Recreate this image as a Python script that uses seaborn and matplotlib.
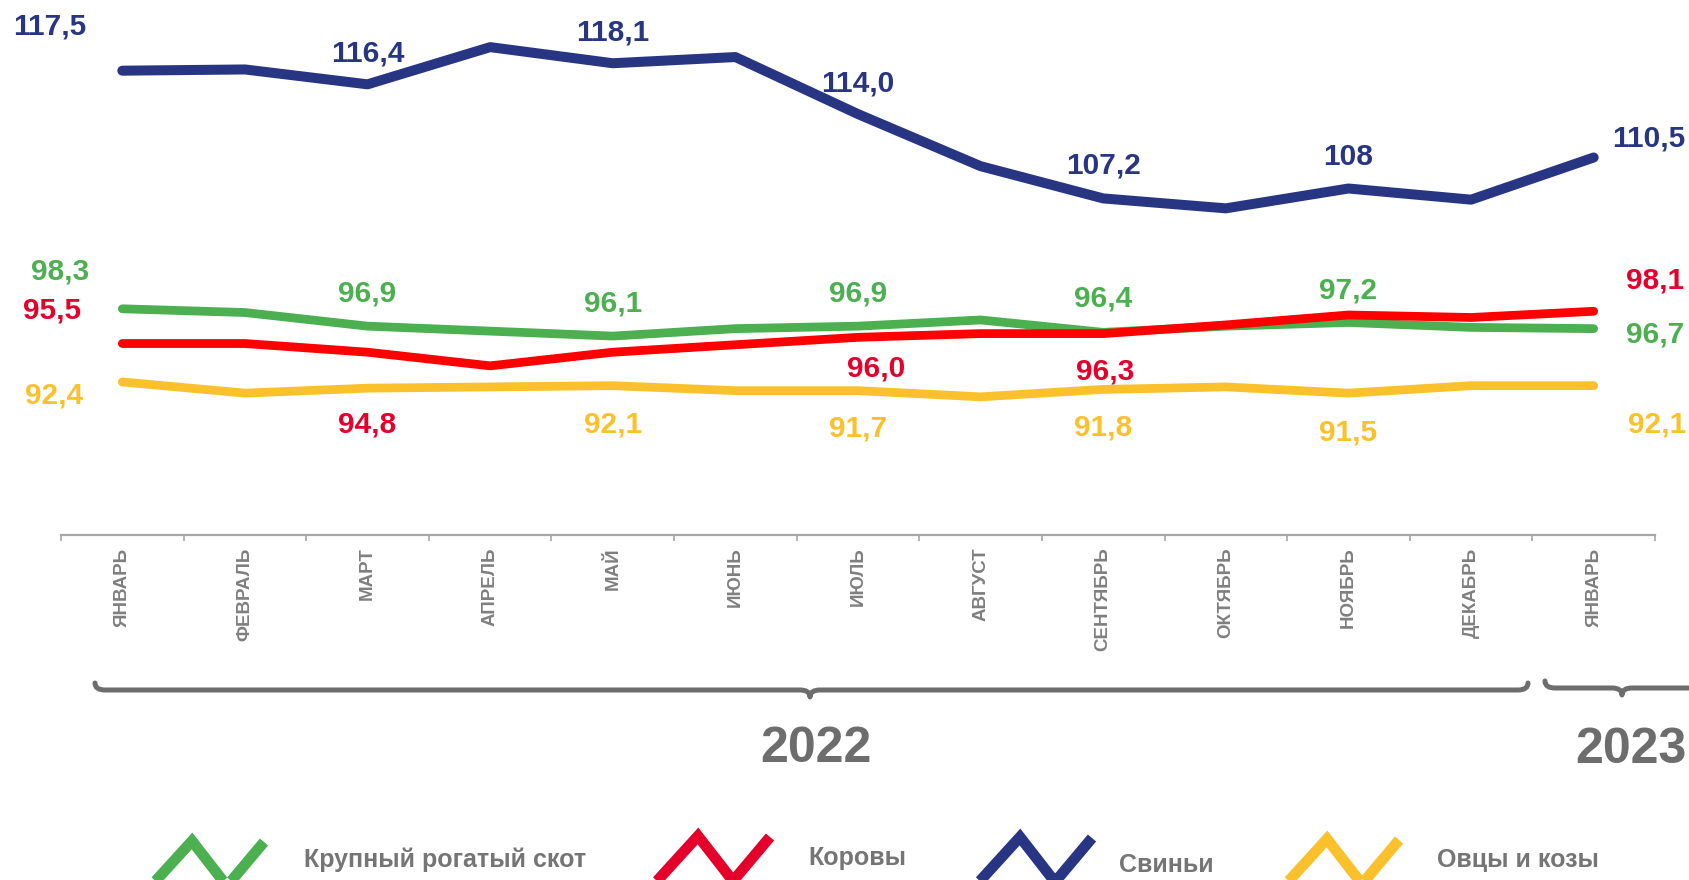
import numpy as np
import pandas as pd
import matplotlib
matplotlib.use('Agg')
import matplotlib.pyplot as plt
import seaborn as sns
from matplotlib.path import Path
from matplotlib.patches import PathPatch
from matplotlib.lines import Line2D
from matplotlib.transforms import Affine2D
from matplotlib import font_manager as fm

#%% data
months = ['ЯНВАРЬ', 'ФЕВРАЛЬ', 'МАРТ', 'АПРЕЛЬ', 'МАЙ', 'ИЮНЬ', 'ИЮЛЬ',
          'АВГУСТ', 'СЕНТЯБРЬ', 'ОКТЯБРЬ', 'НОЯБРЬ', 'ДЕКАБРЬ', 'ЯНВАРЬ']
series_names = ['Крупный рогатый скот', 'Коровы', 'Свиньи', 'Овцы и козы']

cattle = [98.3, 98.0, 96.9, 96.5, 96.1, 96.7, 96.9, 97.4, 96.4, 96.9, 97.2, 96.8, 96.7]
cows = [95.5, 95.5, 94.8, 93.7, 94.8, 95.4, 96.0, 96.3, 96.3, 97.0, 97.8, 97.6, 98.1]
pigs = [117.5, 117.6, 116.4, 119.4, 118.1, 118.6, 114.0, 109.8, 107.2, 106.4, 108.0, 107.1, 110.5]
sheep = [92.4, 91.5, 91.9, 92.0, 92.1, 91.7, 91.7, 91.2, 91.8, 92.0, 91.5, 92.1, 92.1]

# labelled points (month index) and label text
cattle_lbl_idx = [0, 2, 4, 6, 8, 10, 12]
cattle_lbl = ['98,3', '96,9', '96,1', '96,9', '96,4', '97,2', '96,7']
cows_lbl_idx = [0, 2, 6, 8, 12]
cows_lbl = ['95,5', '94,8', '96,0', '96,3', '98,1']
pigs_lbl_idx = [0, 2, 4, 6, 8, 10, 12]
pigs_lbl = ['117,5', '116,4', '118,1', '114,0', '107,2', '108', '110,5']
sheep_lbl_idx = [0, 4, 6, 8, 10, 12]
sheep_lbl = ['92,4', '92,1', '91,7', '91,8', '91,5', '92,1']

years = ['2022', '2023']

#%% styling / layout
W, H = 1690, 880
line_colors = ['#4caf50', '#ff0000', '#283583', '#fbc12d']
text_colors = ['#4caf50', '#e4002b', '#283583', '#fbc12d']
gray = '#6d6d6d'

# label offsets in pixels (dx, dy down) relative to the point
cattle_off = [(-62, -40), (0, -35), (0, -35), (0, -35), (0, -36), (0, -34), (61, 3)]
cows_off = [(-70, -36), (0, 70), (18, 29), (2, 35), (61, -33)]
pigs_off = [(-73, -47), (0, -33), (0, -33), (0, -33), (0, -35), (0, -34), (55, -21)]
sheep_off = [(-68, 11), (0, 36), (0, 35), (0, 36), (0, 37), (63, 36)]

sns.set_style('white')
plt.rcParams['font.family'] = ['Liberation Sans', 'DejaVu Sans']

names = {f.name for f in fm.fontManager.ttflist}
if 'Liberation Sans Narrow' in names:
    legend_font, legend_size = ['Liberation Sans Narrow', 'DejaVu Sans'], 21
else:
    legend_font, legend_size = ['Liberation Sans', 'DejaVu Sans'], 18

df = pd.DataFrame({
    'idx': np.tile(np.arange(len(months)), 4),
    'value': cattle + cows + pigs + sheep,
    'series': np.repeat(series_names, len(months)),
})

fig = plt.figure(figsize=(W / 100, H / 100), dpi=100)
ax = fig.add_axes([61 / W, 1 - 535 / H, 1594 / W, 535 / H])

sns.lineplot(data=df, x='idx', y='value', hue='series', hue_order=series_names,
             palette=line_colors, linewidth=6.3, legend=False, ax=ax)
for i, ln in enumerate(ax.lines):
    ln.set_solid_capstyle('round')
    ln.set_solid_joinstyle('round')
    if i == 2:
        ln.set_linewidth(7.2)

ax.set_xlim(-0.5, len(months) - 0.5)
ax.set_ylim(80.06, 123.2)
ax.set_xlabel('')
ax.set_ylabel('')
ax.set_yticks([])
ax.set_xticks(range(len(months)))
ax.set_xticklabels(months, rotation=90, fontsize=13.5, fontweight='bold', color='#7f7f7f')
ax.set_xticks(np.arange(-0.5, len(months)), minor=True)
ax.tick_params(axis='x', which='major', length=0, pad=9)
ax.tick_params(axis='x', which='minor', length=4, width=1.2, color='#a6a6a6', direction='out', bottom=True)
for s in ['top', 'right', 'left']:
    ax.spines[s].set_visible(False)
ax.spines['bottom'].set_color('#a6a6a6')
ax.spines['bottom'].set_linewidth(1.6)
ax.patch.set_alpha(0)

# data labels
for vals, idxs, lbls, offs, col in [
        (cattle, cattle_lbl_idx, cattle_lbl, cattle_off, text_colors[0]),
        (cows, cows_lbl_idx, cows_lbl, cows_off, text_colors[1]),
        (pigs, pigs_lbl_idx, pigs_lbl, pigs_off, text_colors[2]),
        (sheep, sheep_lbl_idx, sheep_lbl, sheep_off, text_colors[3])]:
    for i, t, (dx, dy) in zip(idxs, lbls, offs):
        ax.annotate(t, (i, vals[i]), xytext=(dx, -(dy + 10.5)), textcoords='offset pixels',
                    ha='center', va='baseline', fontsize=21.5, fontweight='bold',
                    color=col, annotation_clip=False)

# pixel (y down) -> figure transform
px = Affine2D().scale(1 / W, -1 / H).translate(0, 1) + fig.transFigure


def brace(x0, x1, xc, y, h=7, w=10):
    verts = [(x0, y - h), (x0, y), (x0 + w, y),
             (xc - w, y), (xc, y), (xc, y + h),
             (xc, y), (xc + w, y),
             (x1 - w, y), (x1, y), (x1, y - h)]
    codes = [Path.MOVETO, Path.CURVE3, Path.CURVE3,
             Path.LINETO, Path.CURVE3, Path.CURVE3,
             Path.CURVE3, Path.CURVE3,
             Path.LINETO, Path.CURVE3, Path.CURVE3]
    fig.add_artist(PathPatch(Path(verts, codes), fill=False, lw=3.6, ec=gray,
                             transform=px, capstyle='round', joinstyle='round'))


brace(95, 1528, 810, 690)
brace(1545, 1760, 1622, 688)
fig.text(816 / W, 1 - 762 / H, years[0], ha='center', va='baseline',
         fontsize=36, fontweight='bold', color=gray)
fig.text(1631 / W, 1 - 763 / H, years[1], ha='center', va='baseline',
         fontsize=36, fontweight='bold', color=gray)

# legend with zigzag icons
icon_x = [153, 659, 981, 1288]
icon_top = [841, 836, 837, 839]
text_x = [304, 808, 1119, 1437]
text_base = [867, 865, 872, 867]
for name, col, x0, yt, tx, tb in zip(series_names, text_colors, icon_x, icon_top, text_x, text_base):
    fig.add_artist(Line2D([x0 - 2, x0 + 39, x0 + 74, x0 + 111], [yt + 45, yt, yt + 45, yt + 1],
                          color=col, lw=7.8, transform=px, solid_joinstyle='miter',
                          solid_capstyle='butt'))
    fig.text(tx / W, 1 - tb / H, name, ha='left', va='baseline', fontsize=legend_size,
             fontweight='bold', color='#757575', family=legend_font)

fig.savefig('out.png', dpi=100)
